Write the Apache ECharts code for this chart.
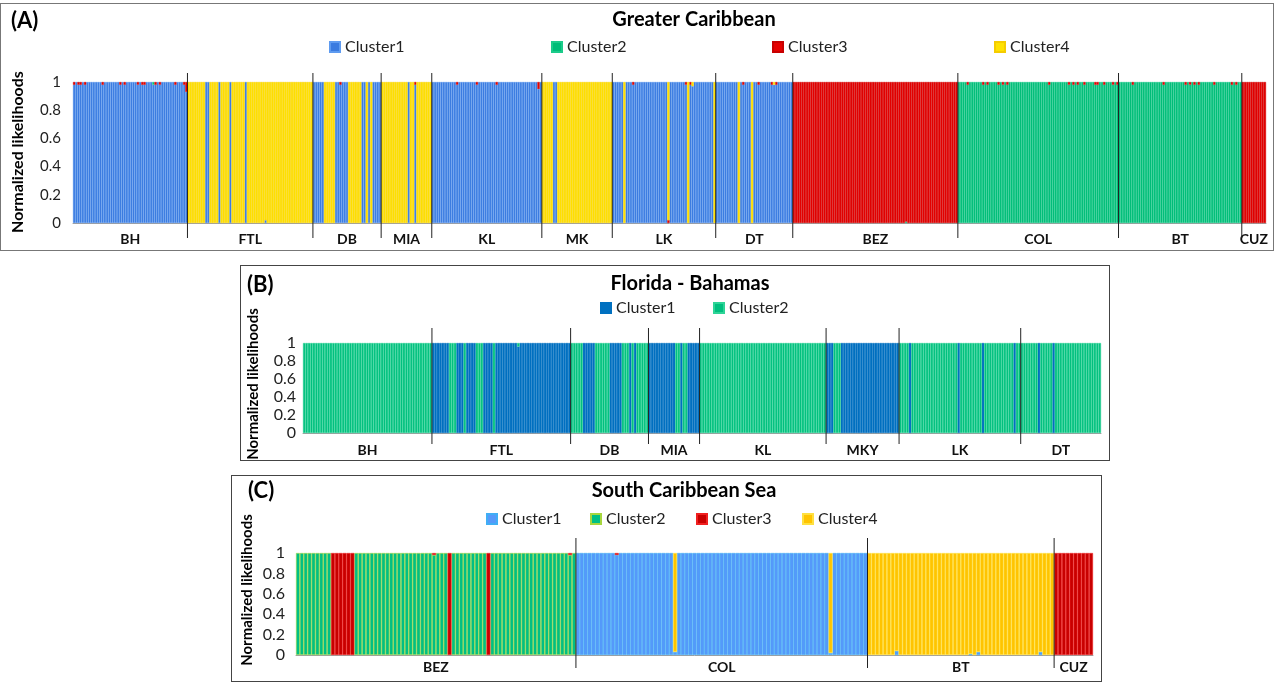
<!DOCTYPE html>
<html>
<head>
<meta charset="utf-8">
<script src="https://cdn.jsdelivr.net/npm/echarts@6/dist/echarts.min.js"></script>
<style>
html,body{margin:0;padding:0;background:#fff;}
body{width:1274px;height:682px;position:relative;overflow:hidden;}
.chart{position:absolute;}
.frame{position:absolute;box-sizing:border-box;pointer-events:none;}
</style>
</head>
<body>
<div id="chartA" class="chart" style="left:0;top:0;width:1274px;height:252px"></div>
<div id="chartB" class="chart" style="left:240px;top:265px;width:870px;height:196px"></div>
<div id="chartC" class="chart" style="left:231px;top:475px;width:871px;height:207px"></div>
<div class="frame" style="left:0;top:3px;width:1274px;height:248px;border:1px solid #777;"></div>
<div class="frame" style="left:240px;top:265px;width:870px;height:196px;border:1px solid #444;"></div>
<div class="frame" style="left:231px;top:475px;width:871px;height:207px;border:1px solid #444;"></div>
<script>
var clusters = ['Cluster1', 'Cluster2', 'Cluster3', 'Cluster4'];

// (A) Greater Caribbean -- runs of individuals: [dominant cluster, count]
var popsA = ['BH', 'FTL', 'DB', 'MIA', 'KL', 'MK', 'LK', 'DT', 'BEZ', 'COL', 'BT', 'CUZ'];
var runsA = [
  [[1, 52]],
  [[4, 8], [1, 2], [4, 4], [1, 1], [4, 4], [1, 1], [4, 6], [1, 1], [4, 30]],
  [[1, 5], [4, 5], [1, 6], [4, 6], [1, 2], [4, 1], [1, 1], [4, 1], [1, 4]],
  [[4, 12], [1, 1], [4, 2], [1, 1], [4, 7]],
  [[1, 50]],
  [[4, 5], [1, 2], [4, 25]],
  [[1, 5], [4, 1], [1, 19], [4, 1], [1, 8], [4, 1], [1, 11], [4, 1]],
  [[1, 10], [4, 1], [1, 5], [4, 1], [1, 18]],
  [[3, 75]],
  [[2, 73]],
  [[2, 56]],
  [[3, 11]]
];
// small admixture: [population, individual, cluster, proportion]
var tweaksA = [
  ['BH', 0, 3, 0.02], ['BH', 2, 3, 0.02], ['BH', 3, 3, 0.02], ['BH', 5, 3, 0.02],
  ['BH', 13, 3, 0.02], ['BH', 21, 3, 0.02], ['BH', 23, 3, 0.02], ['BH', 29, 3, 0.02],
  ['BH', 31, 3, 0.02], ['BH', 32, 3, 0.02], ['BH', 36, 2, 0.02], ['BH', 37, 3, 0.02],
  ['BH', 39, 3, 0.02], ['BH', 46, 3, 0.02], ['BH', 50, 3, 0.02], ['BH', 51, 3, 0.07],
  ['FTL', 35, 1, 0.02], ['DB', 12, 3, 0.02], ['MIA', 15, 3, 0.02],
  ['KL', 11, 3, 0.02], ['KL', 20, 3, 0.02], ['KL', 29, 3, 0.02], ['KL', 48, 3, 0.05],
  ['LK', 9, 3, 0.02], ['LK', 25, 3, 0.02], ['LK', 33, 3, 0.02], ['LK', 35, 3, 0.02], ['LK', 36, 4, 0.03],
  ['DT', 12, 3, 0.02], ['DT', 19, 3, 0.02], ['DT', 25, 3, 0.02], ['DT', 26, 4, 0.02], ['DT', 27, 3, 0.02],
  ['BEZ', 51, 2, 0.01],
  ['COL', 4, 3, 0.02], ['COL', 11, 3, 0.02], ['COL', 13, 3, 0.02], ['COL', 18, 3, 0.02],
  ['COL', 20, 3, 0.02], ['COL', 22, 3, 0.02], ['COL', 41, 3, 0.02], ['COL', 50, 3, 0.02],
  ['COL', 52, 3, 0.02], ['COL', 54, 3, 0.02], ['COL', 57, 3, 0.02], ['COL', 62, 3, 0.02],
  ['COL', 63, 3, 0.02], ['COL', 66, 3, 0.02], ['COL', 70, 3, 0.02], ['COL', 72, 3, 0.02],
  ['BT', 6, 3, 0.02], ['BT', 20, 3, 0.02], ['BT', 30, 3, 0.02], ['BT', 32, 3, 0.02],
  ['BT', 34, 3, 0.02], ['BT', 36, 3, 0.02], ['BT', 43, 3, 0.02], ['BT', 51, 3, 0.02], ['BT', 53, 3, 0.02]
];

// (B) Florida - Bahamas
var popsB = ['BH', 'FTL', 'DB', 'MIA', 'KL', 'MKY', 'LK', 'DT'];
var runsB = [
  [[2, 53]],
  [[1, 7], [2, 3], [1, 3], [2, 1], [1, 4], [2, 3], [1, 4], [2, 1], [1, 31]],
  [[2, 5], [1, 5], [2, 6], [1, 5], [2, 3], [1, 1], [2, 1], [1, 1], [2, 5]],
  [[1, 11], [2, 2], [1, 1], [2, 2], [1, 5]],
  [[2, 52]],
  [[1, 3], [2, 3], [1, 24]],
  [[2, 4], [1, 1], [2, 19], [1, 1], [2, 9], [1, 1], [2, 12], [1, 1], [2, 2]],
  [[2, 7], [1, 1], [2, 5], [1, 1], [2, 19]]
];
var tweaksB = [['FTL', 35, 2, 0.04]];

// (C) South Caribbean Sea
var popsC = ['BEZ', 'COL', 'BT', 'CUZ'];
var runsC = [
  [[2, 9], [3, 6], [2, 24], [3, 1], [2, 9], [3, 1], [2, 22]],
  [[1, 25], [4, 1], [1, 39], [4, 1], [1, 9]],
  [[4, 48]],
  [[3, 10]]
];
var tweaksC = [
  ['BEZ', 35, 3, 0.02], ['BEZ', 70, 3, 0.02],
  ['COL', 10, 3, 0.02], ['COL', 25, 1, 0.03], ['COL', 65, 1, 0.02],
  ['BT', 7, 1, 0.04], ['BT', 26, 1, 0.01], ['BT', 28, 1, 0.03], ['BT', 44, 1, 0.03]
];

// turn runs + admixture into per-cluster value arrays
function buildData(pops, runs, tweaks, k) {
  var rows = [], starts = {}, spans = [];
  runs.forEach(function (popRuns, p) {
    starts[pops[p]] = rows.length;
    popRuns.forEach(function (r) {
      for (var i = 0; i < r[1]; i++) {
        var row = [];
        for (var c = 0; c < k; c++) row.push(c === r[0] - 1 ? 1 : 0);
        rows.push(row);
      }
    });
    spans.push([starts[pops[p]], rows.length - 1]);
  });
  tweaks.forEach(function (t) {
    var row = rows[starts[t[0]] + t[1]];
    var dom = row.indexOf(Math.max.apply(null, row));
    row[dom] -= t[3];
    row[t[2] - 1] += t[3];
  });
  var data = [];
  for (var c = 0; c < k; c++) {
    data.push(rows.map(function (row) { return row[c] > 0 ? +row[c].toFixed(3) : '-'; }));
  }
  return { n: rows.length, data: data, spans: spans };
}

function makeOption(cfg) {
  var k = cfg.colors.length;
  var built = buildData(cfg.pops, cfg.runs, cfg.tweaks, k);
  var cats = [];
  for (var i = 0; i < built.n; i++) cats.push(String(i + 1));
  var series = [];
  for (var c = 0; c < k; c++) {
    series.push({
      type: 'bar', name: clusters[c], stack: 'q', data: built.data[c],
      barCategoryGap: '0%', barGap: '0%', silent: true,
      itemStyle: { color: cfg.colors[c][0], borderColor: cfg.colors[c][1], borderWidth: cfg.border }
    });
  }
  // population labels and dividers
  series.push({
    type: 'custom', data: built.spans, clip: false, silent: true, z: 10,
    renderItem: function (params, api) {
      var s = api.value(0), e = api.value(1);
      var band = api.size([1, 0])[0];
      var x0 = api.coord([s, 0])[0] - band / 2;
      var x1 = api.coord([e, 0])[0] + band / 2;
      var yBot = api.coord([s, 0])[1];
      var yTop = api.coord([s, 1])[1];
      var kids = [{
        type: 'text', x: (x0 + x1) / 2, y: yBot + cfg.labelGap,
        style: { text: cfg.pops[params.dataIndex], align: 'center', verticalAlign: 'middle',
          textAlign: 'center', textVerticalAlign: 'middle',
          font: 'bold 14px Lato', fill: '#111' }
      }];
      if (params.dataIndex > 0) {
        kids.push({
          type: 'line',
          shape: { x1: x0, y1: yTop - cfg.divUp, x2: x0, y2: yBot + cfg.divDown },
          style: { stroke: '#222', lineWidth: 1 }
        });
      }
      return { type: 'group', children: kids };
    }
  });
  return {
    animation: false,
    textStyle: { fontFamily: 'Lato' },
    grid: cfg.grid,
    xAxis: {
      type: 'category', data: cats,
      axisLabel: { show: false }, axisTick: { show: false },
      axisLine: { lineStyle: { color: '#a0a0a0' } }
    },
    yAxis: {
      type: 'value', min: 0, max: 1, interval: 0.2,
      splitLine: { show: false }, axisLine: { show: false }, axisTick: { show: false },
      axisLabel: { fontSize: cfg.tickSize, color: '#222', margin: cfg.labelMargin,
        formatter: function (v) { return String(+v.toFixed(1)); } }
    },
    legend: cfg.legendLeft.map(function (x, i) {
      return {
        data: [clusters[i]], left: x, top: cfg.legendTop, padding: 0, icon: 'rect',
        itemWidth: 10, itemHeight: 10, itemGap: 5, selectedMode: false,
        textStyle: { fontSize: 16, color: '#222', fontFamily: 'Lato' }
      };
    }),
    graphic: [
      { type: 'text', x: cfg.tag[0], y: cfg.tag[1],
        style: { text: cfg.tag[2], font: 'bold 22px Lato', fill: '#000', verticalAlign: 'middle', textVerticalAlign: 'middle' } },
      { type: 'text', x: cfg.title[0], y: cfg.title[1],
        style: { text: cfg.title[2], font: 'bold 20px Lato', fill: '#000', align: 'center', textAlign: 'center',
          verticalAlign: 'middle', textVerticalAlign: 'middle' } },
      { type: 'text', x: cfg.yname[0], y: cfg.yname[1], rotation: Math.PI / 2,
        style: { text: 'Normalized likelihoods', font: 'bold ' + cfg.yname[2] + 'px Lato', fill: '#000', align: 'center', textAlign: 'center',
          verticalAlign: 'middle', textVerticalAlign: 'middle' } }
    ],
    series: series
  };
}

var chartA = echarts.init(document.getElementById('chartA'));
chartA.setOption(makeOption({
  pops: popsA, runs: runsA, tweaks: tweaksA, border: 0.4,
  colors: [['#3A7BE0', '#5E9BF0'], ['#00BD78', '#1CCB8A'], ['#E60000', '#C80000'], ['#FFE200', '#F5CC00']],
  grid: { left: 73, top: 82, width: 1193, height: 141 },
  tickSize: 15, labelMargin: 12, labelGap: 16, divUp: 9, divDown: 15,
  legendLeft: [329, 551, 772, 994], legendTop: 39,
  tag: [11, 21, '(A)'], title: [694, 20, 'Greater Caribbean'], yname: [18, 152, 16]
}));

var chartB = echarts.init(document.getElementById('chartB'));
chartB.setOption(makeOption({
  pops: popsB, runs: runsB, tweaks: tweaksB, border: 0.5,
  colors: [['#0070C0', '#0070C0'], ['#00BF7E', '#2ED497']],
  grid: { left: 63, top: 78, width: 798, height: 90 },
  tickSize: 16, labelMargin: 7, labelGap: 17, divUp: 15, divDown: 11,
  legendLeft: [360, 473], legendTop: 35,
  tag: [7, 20, '(B)'], title: [450, 19, 'Florida - Bahamas'], yname: [13, 119, 15]
}));

var chartC = echarts.init(document.getElementById('chartC'));
chartC.setOption(makeOption({
  pops: popsC, runs: runsC, tweaks: tweaksC, border: 0.6,
  colors: [['#5599FA', '#40AEF5'], ['#00BF85', '#A6D63E'], ['#C80000', '#F02020'], ['#FFC400', '#FFE040']],
  grid: { left: 65, top: 78, width: 797, height: 102 },
  tickSize: 16, labelMargin: 11, labelGap: 12, divUp: 15, divDown: 13,
  legendLeft: [255, 359, 465, 571], legendTop: 36,
  tag: [17, 16, '(C)'], title: [453, 16, 'South Caribbean Sea'], yname: [16, 115, 15]
}));
</script>
</body>
</html>
